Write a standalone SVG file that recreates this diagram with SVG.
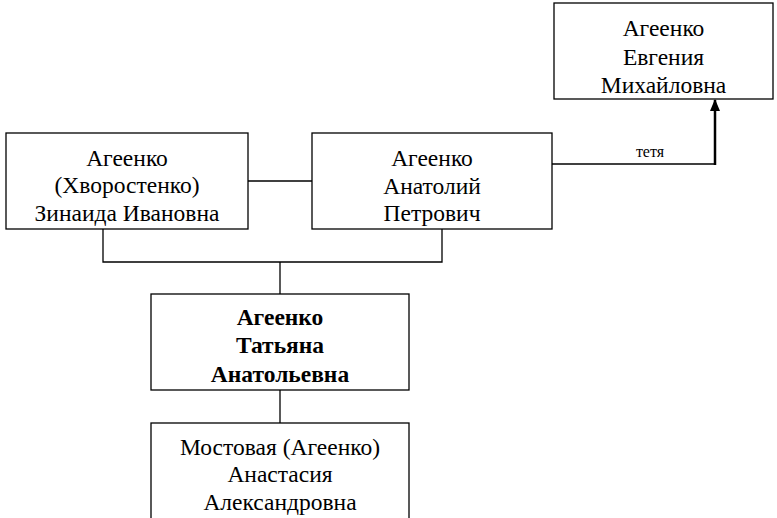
<svg xmlns="http://www.w3.org/2000/svg" width="777" height="518" viewBox="0 0 777 518">
<style>
.box{fill:#fff;stroke:#000;stroke-width:1.3}
.t{font-family:"Liberation Serif","Times New Roman",serif;font-size:23.5px;text-anchor:middle;fill:#000}
.b{font-weight:bold}
.c{fill:none;stroke:#000;stroke-width:1.3}
.lbl{font-family:"Liberation Serif","Times New Roman",serif;font-size:16px;text-anchor:middle;fill:#000}
</style>
<defs>
<marker id="ah" markerWidth="12" markerHeight="10" refX="11" refY="5" orient="auto" markerUnits="userSpaceOnUse" viewBox="0 0 12 10">
<path d="M0,0 L12,5 L0,10 Z" fill="#000"/>
</marker>
</defs>
<rect width="777" height="518" fill="#fff"/>
<g id="connectors">
<line class="c" x1="248" y1="181" x2="312" y2="181"/>
<polyline class="c" points="103,229 103,262 442,262 442,229"/>
<line class="c" x1="280" y1="262" x2="280" y2="294"/>
<line class="c" x1="280" y1="390" x2="280" y2="423"/>
<polyline class="c" points="552,164 715,164"/>
<line x1="715" y1="165" x2="715" y2="100" stroke="#000" stroke-width="2.5" marker-end="url(#ah)"/>
<text class="lbl" x="650" y="157">тетя</text>
</g>
<g id="n-evgenia">
<rect class="box" x="554" y="3" width="219" height="96"/>
<text class="t" x="663.5" y="36">Агеенко</text>
<text class="t" x="663.5" y="65">Евгения</text>
<text class="t" x="663.5" y="93">Михайловна</text>
</g>
<g id="n-zinaida">
<rect class="box" x="6" y="133" width="242" height="96"/>
<text class="t" x="127" y="166">Агеенко</text>
<text class="t" x="127" y="193">(Хворостенко)</text>
<text class="t" x="127" y="221">Зинаида Ивановна</text>
</g>
<g id="n-anatoliy">
<rect class="box" x="312" y="133" width="240" height="96"/>
<text class="t" x="432" y="166">Агеенко</text>
<text class="t" x="432" y="194">Анатолий</text>
<text class="t" x="432" y="221">Петрович</text>
</g>
<g id="n-tatyana">
<rect class="box" x="151" y="294" width="258" height="96"/>
<text class="t b" x="280" y="325">Агеенко</text>
<text class="t b" x="280" y="353">Татьяна</text>
<text class="t b" x="280" y="382">Анатольевна</text>
</g>
<g id="n-anastasia">
<rect class="box" x="151" y="423" width="258" height="110"/>
<text class="t" x="280" y="455">Мостовая (Агеенко)</text>
<text class="t" x="280" y="482">Анастасия</text>
<text class="t" x="280" y="510">Александровна</text>
</g>
</svg>
